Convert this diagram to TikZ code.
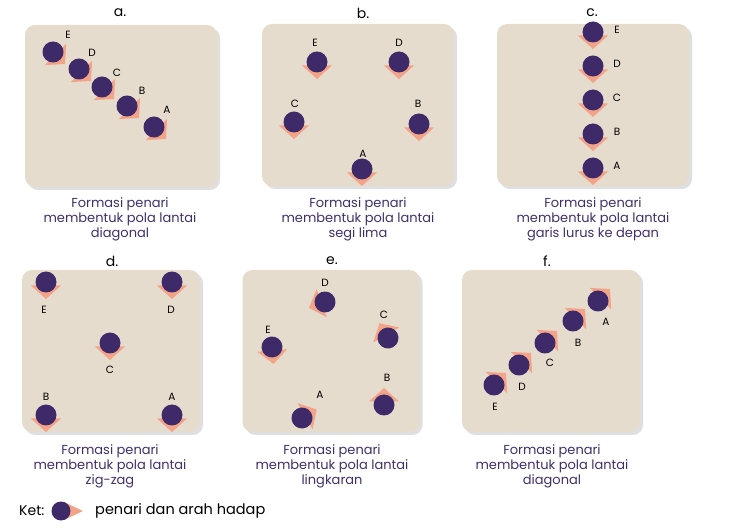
\documentclass[tikz,border=0pt]{standalone}
\usepackage{fontspec}
\setmainfont{Poppins}
\usepackage{tikz}
\usetikzlibrary{positioning,shadows}
\definecolor{LantaiBg}{HTML}{E6DCCD}
\definecolor{PenariUngu}{HTML}{3E2A68}
\definecolor{HadapSalmon}{HTML}{F3A387}
\definecolor{TeksUngu}{HTML}{3F2F6C}

\begin{document}
\begin{tikzpicture}[x=1pt,y=-1pt]
    \tikzstyle{lantai}=[fill=LantaiBg,rounded corners=10pt,
      minimum width=192pt,minimum height=162pt,
      drop shadow={shadow xshift=3pt,shadow yshift=-3pt,opacity=.25}]
    \tikzstyle{judul}=[inner sep=0pt,font=\fontsize{14}{16}\selectfont]
    \tikzstyle{huruf}=[inner sep=0pt,font=\fontsize{10.5}{12}\selectfont]
    \tikzstyle{keterangan}=[inner sep=0pt,anchor=north,align=center,
      text=TeksUngu,font=\fontsize{13}{15}\selectfont]
    \tikzset{penari/.pic={
      \fill[HadapSalmon] (3.5,15) -- (17,0) -- (3.5,-15) -- cycle;
      \fill[PenariUngu] (0,0) circle (10.5);}}
    \useasboundingbox (0,0) rectangle (737,529);
    % a. diagonal
    \node[lantai] (boxa) at (121,106) {};
    \node[judul] (ja) at (120,13) {a.};
    \pic[rotate=-45] at (53,52) {penari};
    \pic[rotate=-45] at (79,69) {penari};
    \pic[rotate=-45] at (102,87) {penari};
    \pic[rotate=-45] at (127,106) {penari};
    \pic[rotate=-45] at (154,127) {penari};
    \node[huruf] (aE) at (68,35) {E};
    \node[huruf] (aD) at (92,53) {D};
    \node[huruf] (aC) at (117,73) {C};
    \node[huruf] (aB) at (142,91) {B};
    \node[huruf] (aA) at (167,110) {A};
    \node[keterangan] (ka) at (120,197) {Formasi penari\\membentuk pola lantai\\diagonal};
    % b. segi lima
    \node[lantai] (boxb) at (358,105) {};
    \node[judul] (jb) at (363,13) {b.};
    \pic[rotate=-90] at (317,62) {penari};
    \pic[rotate=-90] at (399,62) {penari};
    \pic[rotate=-90] at (294,122) {penari};
    \pic[rotate=-90] at (419,124) {penari};
    \pic[rotate=-90] at (362,169) {penari};
    \node[huruf] (bE) at (315,43) {E};
    \node[huruf] (bD) at (399,43) {D};
    \node[huruf] (bC) at (295,104) {C};
    \node[huruf] (bB) at (418,104) {B};
    \node[huruf] (bA) at (363,154) {A};
    \node[keterangan] (kb) at (358,197) {Formasi penari\\membentuk pola lantai\\segi lima};
    % c. garis lurus
    \node[lantai] (boxc) at (593,105) {};
    \node[judul] (jc) at (592,13) {c.};
    \foreach \y/\h in {32/E,66/D,100/C,134/B,168/A}{
      \pic[rotate=-90] at (593,\y) {penari};
      \node[huruf] (c\h) at (617,\y-2) {\h};
    }
    \node[keterangan] (kc) at (593,197) {Formasi penari\\membentuk pola lantai\\garis lurus ke depan};
    % d. zig-zag
    \node[lantai,minimum width=178pt] (boxd) at (111,351) {};
    \node[judul] (jd) at (112,261) {d.};
    \pic[rotate=-90] at (46,282) {penari};
    \pic[rotate=-90] at (172,282) {penari};
    \pic[rotate=-90] at (110,343) {penari};
    \pic[rotate=-90] at (46,415) {penari};
    \pic[rotate=-90] at (172,415) {penari};
    \node[huruf] (dE) at (44,310) {E};
    \node[huruf] (dD) at (171,310) {D};
    \node[huruf] (dC) at (110,370) {C};
    \node[huruf] (dB) at (46,397) {B};
    \node[huruf] (dA) at (172,397) {A};
    \node[keterangan] (kd) at (110,444) {Formasi penari\\membentuk pola lantai\\zig-zag};
    % e. lingkaran
    \node[lantai,minimum width=177pt] (boxe) at (331,351) {};
    \node[judul] (je) at (332,261) {e.};
    \pic[rotate=200] at (325,302) {penari};
    \pic[rotate=-85] at (272,347) {penari};
    \pic[rotate=30] at (302,418) {penari};
    \pic[rotate=90] at (384,405) {penari};
    \pic[rotate=120] at (388,338) {penari};
    \node[huruf] (eD) at (325,283) {D};
    \node[huruf] (eC) at (384,315) {C};
    \node[huruf] (eE) at (268,330) {E};
    \node[huruf] (eB) at (387,378) {B};
    \node[huruf] (eA) at (320,395) {A};
    \node[keterangan] (ke) at (332,444) {Formasi penari\\membentuk pola lantai\\lingkaran};
    % f. diagonal
    \node[lantai,minimum width=178pt] (boxf) at (551,351) {};
    \node[judul] (jf) at (547,261) {f.};
    \pic[rotate=45] at (598,301) {penari};
    \pic[rotate=45] at (573,321) {penari};
    \pic[rotate=45] at (545,343) {penari};
    \pic[rotate=45] at (519,365) {penari};
    \pic[rotate=45] at (494,385) {penari};
    \node[huruf] (fA) at (606,322) {A};
    \node[huruf] (fB) at (578,343) {B};
    \node[huruf] (fC) at (550,363) {C};
    \node[huruf] (fD) at (522,387) {D};
    \node[huruf] (fE) at (495,407) {E};
    \node[keterangan] (kf) at (552,444) {Formasi penari\\membentuk pola lantai\\diagonal};
    % ket
    \node[inner sep=0pt,anchor=west,font=\fontsize{14}{16}\selectfont] (ket) at (19,511) {Ket:};
    \fill[HadapSalmon] (64,502) -- (83,511) -- (64,520) -- cycle;
    \fill[PenariUngu] (61,511) circle (9.5);
    \node[inner sep=0pt,anchor=west,font=\fontsize{14.5}{16}\selectfont] (ketp) at (95,511) {penari dan arah hadap};
  \end{tikzpicture}
\end{document}
